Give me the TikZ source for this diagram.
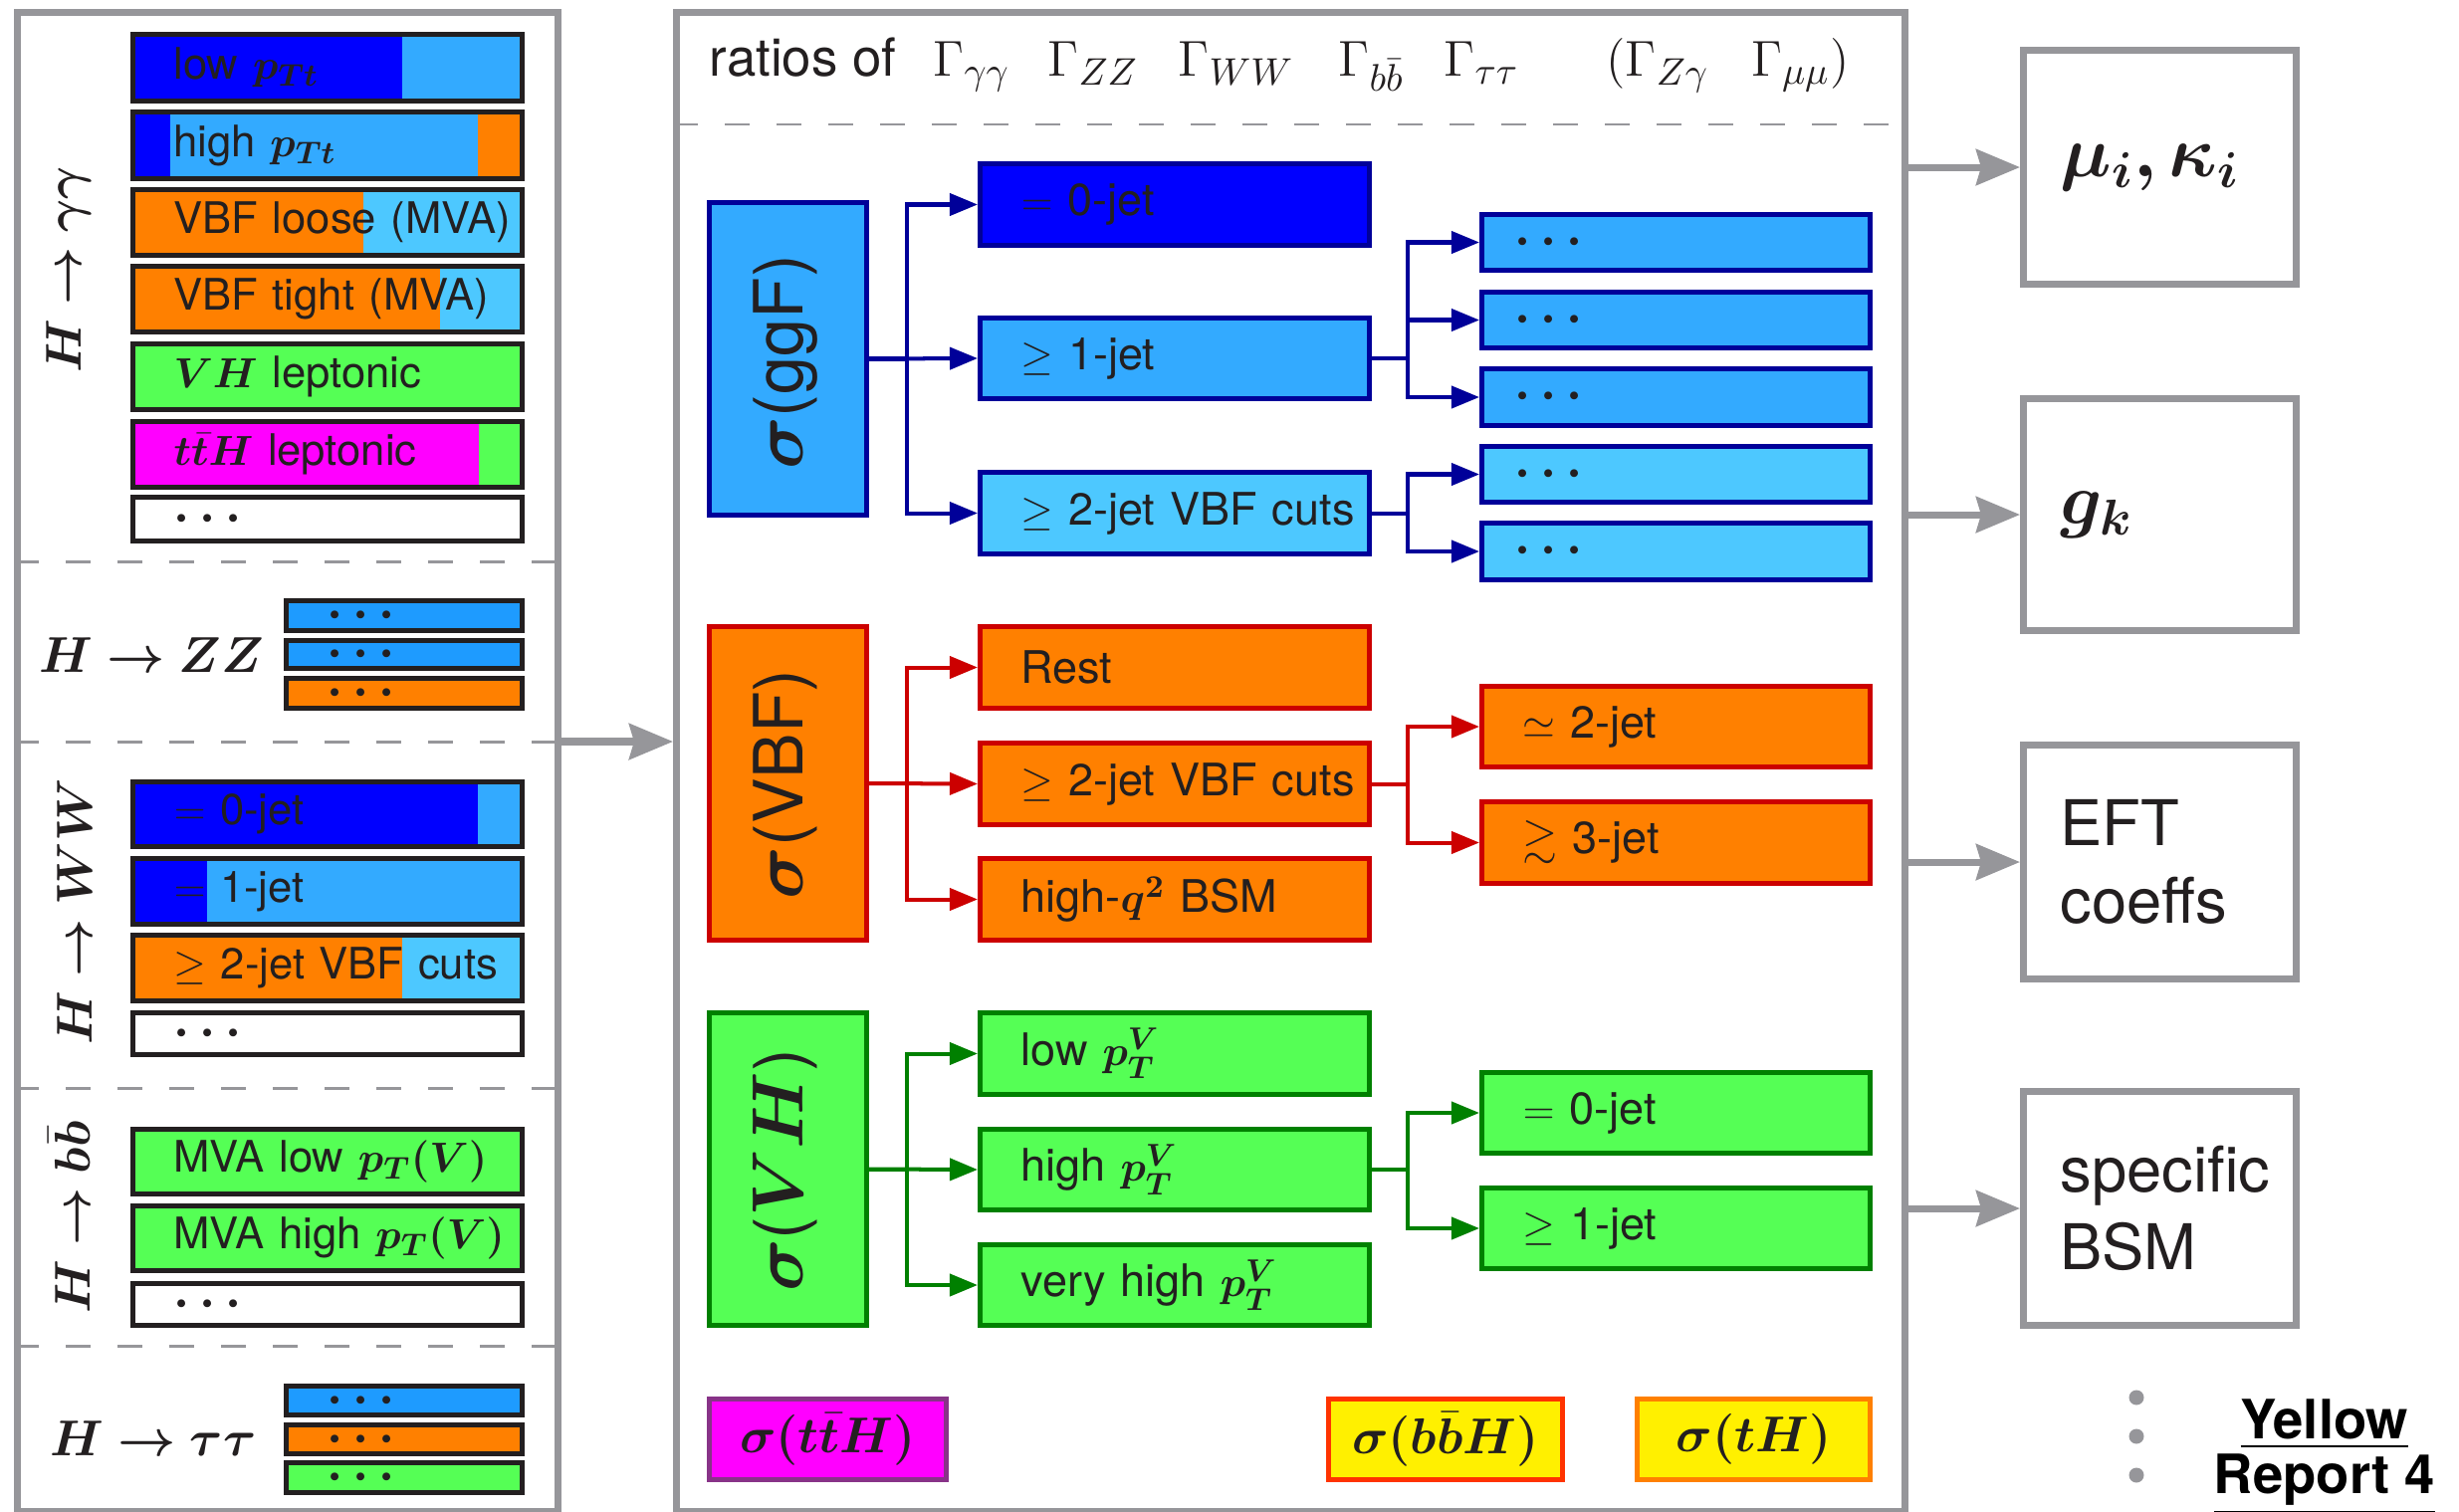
\documentclass[tikz,border=0pt]{standalone}
\usepackage{amsmath,amssymb,bm}
\usepackage{fontspec}
\setmainfont{TeX Gyre Heros}
\usetikzlibrary{arrows.meta}
\newdimen\pxu \pxu=0.01cm
\definecolor{cBlue}{RGB}{0,0,255}
\definecolor{cSky}{RGB}{51,170,255}
\definecolor{cCyan}{RGB}{77,200,255}
\definecolor{cZZ}{RGB}{30,155,255}
\definecolor{cOrange}{RGB}{255,128,0}
\definecolor{cGreen}{RGB}{85,255,85}
\definecolor{cMag}{RGB}{255,0,255}
\definecolor{cYel}{RGB}{255,240,0}
\definecolor{cNavy}{RGB}{0,0,153}
\definecolor{cRed}{RGB}{204,0,0}
\definecolor{cDGreen}{RGB}{0,128,0}
\definecolor{cPurple}{RGB}{136,51,136}
\definecolor{cOrRed}{RGB}{255,51,0}
\definecolor{cGray}{RGB}{150,150,154}
\definecolor{cInk}{RGB}{35,31,32}

\newcommand\mkin{39}
\newcommand\mkbox[7][]{%
  \pgfmathsetmacro\mkw{#5-#3}%
  \pgfmathsetmacro\mkh{#6-#4}%
  \pgfmathsetmacro\mkt{#5-#3-4}%
  \node[inner xsep=2\pxu, inner ysep=0pt, minimum width=\mkw\pxu,
    minimum height=\mkh\pxu, text width=\mkt\pxu, align=left,
    anchor=north west, #1] (#2) at (#3,#4) {\hspace*{\mkin\pxu}#7};}

\tikzset{
  lbarb/.style={draw=cInk, line width=1.42pt, text=cInk, font=\fontsize{12.4}{14}\selectfont},
  dotf/.style={font=\fontsize{14.5}{16}\selectfont},
  panel/.style={draw=cGray, line width=2pt},
  sepline/.style={draw=cGray, line width=0.85pt, dash pattern=on 25\pxu off 27\pxu},
  cbox/.style={line width=1.42pt, text=cInk, font=\fontsize{12.8}{15}\selectfont},
  ggbox/.style={cbox, draw=cNavy},
  vbbox/.style={cbox, draw=cRed, fill=cOrange},
  vhbox/.style={cbox, draw=cDGreen, fill=cGreen},
  conn/.style={line width=1.14pt, -{Triangle[length=7.97pt, width=6.26pt]}},
  gconn/.style={conn, draw=cNavy},
  rconn/.style={conn, draw=cRed},
  hconn/.style={conn, draw=cDGreen},
  bigarrow/.style={draw=cGray, line width=2pt, -{Stealth[length=12.5pt, width=10.2pt, inset=1.4pt]}},
  rbox/.style={draw=cGray, line width=2pt, text=cInk, font=\fontsize{18}{22}\selectfont},
  hlab/.style={font=\fontsize{15}{18}\selectfont, text=cInk, inner sep=0pt},
  siglab/.style={rotate=90, font=\fontsize{19.4}{23}\selectfont, text=cInk, inner sep=0pt},
  hdr/.style={font=\fontsize{15}{18}\selectfont, text=cInk, inner sep=0pt, anchor=base west},
  yrep/.style={font=\fontsize{15.5}{18}\selectfont\bfseries, text=black, inner sep=0pt, anchor=base},
}

\begin{document}
\begin{tikzpicture}[x=0.01cm, y=-0.01cm]
\fill[white] (0,0) rectangle (2470,1518);
\useasboundingbox (0,0) rectangle (2470,1518);

% ---------------- left panel ----------------
\mkbox[panel]{lpanel}{14}{9}{557}{1515}{}
\draw[sepline] (lpanel.west |- 0,564) -- (lpanel.east |- 0,564);
\draw[sepline] (lpanel.west |- 0,745) -- (lpanel.east |- 0,745);
\draw[sepline] (lpanel.west |- 0,1093) -- (lpanel.east |- 0,1093);
\draw[sepline] (lpanel.west |- 0,1352) -- (lpanel.east |- 0,1352);

% H -> gamma gamma bars (fills)
\fill[cBlue] (131,32) rectangle (404,99);  \fill[cSky] (404,32) rectangle (522,99);
\fill[cBlue] (131,110) rectangle (171,177); \fill[cSky] (171,110) rectangle (480,177); \fill[cOrange] (480,110) rectangle (522,177);
\fill[cOrange] (131,188) rectangle (365,254); \fill[cCyan] (365,188) rectangle (522,254);
\fill[cOrange] (131,265) rectangle (442,331); \fill[cCyan] (442,265) rectangle (522,331);
\fill[cGreen] (131,343) rectangle (522,409);
\fill[cMag] (131,421) rectangle (481,487); \fill[cGreen] (481,421) rectangle (522,487);
\fill[white] (131,497) rectangle (522,541);
\mkbox[lbarb]{ga1}{131}{32}{522}{99}{low $\bm{p_{Tt}}$}
\mkbox[lbarb]{ga2}{131}{110}{522}{177}{high $\bm{p_{Tt}}$}
\mkbox[lbarb]{ga3}{131}{188}{522}{254}{VBF loose (MVA)}
\mkbox[lbarb]{ga4}{131}{265}{522}{331}{VBF tight (MVA)}
\mkbox[lbarb]{ga5}{131}{343}{522}{409}{$\bm{VH}$ leptonic}
\mkbox[lbarb]{ga6}{131}{421}{522}{487}{$\bm{t\bar tH}$ leptonic}
\mkbox[lbarb,dotf]{ga7}{131}{497}{522}{541}{$\bm\cdots$}
\node[hlab, rotate=90] (lgg) at (69,271) {$\bm{H\rightarrow\gamma\gamma}$};

% H -> ZZ
\node[hlab] (lzz) at (152,658) {$\bm{H\rightarrow ZZ}$};
\mkbox[lbarb,dotf,fill=cZZ]{zz1}{285}{601}{522}{631}{$\bm\cdots$}
\mkbox[lbarb,dotf,fill=cZZ]{zz2}{285}{641}{522}{669}{$\bm\cdots$}
\mkbox[lbarb,dotf,fill=cOrange]{zz3}{285}{679}{522}{709}{$\bm\cdots$}

% H -> WW
\fill[cBlue] (131,783) rectangle (480,848); \fill[cSky] (480,783) rectangle (522,848);
\fill[cBlue] (131,860) rectangle (208,926); \fill[cSky] (208,860) rectangle (522,926);
\fill[cOrange] (131,937) rectangle (404,1003); \fill[cCyan] (404,937) rectangle (522,1003);
\fill[white] (131,1015) rectangle (522,1057);
\mkbox[lbarb]{ww1}{131}{783}{522}{848}{$=$ 0-jet}
\mkbox[lbarb]{ww2}{131}{860}{522}{926}{$=$ 1-jet}
\mkbox[lbarb]{ww3}{131}{937}{522}{1003}{$\geq$ 2-jet VBF cuts}
\mkbox[lbarb,dotf]{ww4}{131}{1015}{522}{1057}{$\bm\cdots$}
\node[hlab, rotate=90] (lww) at (75,916) {$\bm{H\rightarrow WW}$};

% H -> bb
\mkbox[lbarb,fill=cGreen]{bb1}{131}{1132}{522}{1197}{MVA low $\bm{p_T(V)}$}
\mkbox[lbarb,fill=cGreen]{bb2}{131}{1209}{522}{1274}{MVA high $\bm{p_T(V)}$}
\mkbox[lbarb,dotf,fill=white]{bb3}{131}{1287}{522}{1329}{$\bm\cdots$}
\node[hlab, rotate=90] (lbb) at (70,1223) {$\bm{H\rightarrow b\bar b}$};

% H -> tautau
\node[hlab] (ltt) at (154,1445) {$\bm{H\rightarrow\tau\tau}$};
\mkbox[lbarb,dotf,fill=cZZ]{tt1}{285}{1390}{522}{1419}{$\bm\cdots$}
\mkbox[lbarb,dotf,fill=cOrange]{tt2}{285}{1429}{522}{1458}{$\bm\cdots$}
\mkbox[lbarb,dotf,fill=cGreen]{tt3}{285}{1467}{522}{1497}{$\bm\cdots$}

% ---------------- centre panel ----------------
\mkbox[panel]{cpanel}{676}{9}{1910}{1515}{}
\draw[sepline] (cpanel.west |- 0,125) -- (cpanel.east |- 0,125);
\node[hdr] (hd0) at (712,77) {ratios of};
\node[hdr] (hd1) at (937,77) {$\Gamma_{\gamma\gamma}$};
\node[hdr] (hd2) at (1052,77) {$\Gamma_{ZZ}$};
\node[hdr] (hd3) at (1183,77) {$\Gamma_{WW}$};
\node[hdr] (hd4) at (1344,77) {$\Gamma_{b\bar b}$};
\node[hdr] (hd5) at (1450,77) {$\Gamma_{\tau\tau}$};
\node[hdr] (hd6) at (1613,77) {$(\Gamma_{Z\gamma}\hspace{0.8em}\Gamma_{\mu\mu})$};

% ggF
\mkbox[ggbox, fill=cSky]{ggF}{710}{201}{868}{515}{}
\node[siglab] (tggF) at (789,364) {$\bm\sigma$(ggF)};
\mkbox[ggbox, fill=cBlue]{j0}{982}{162}{1373}{244}{$=$ 0-jet}
\mkbox[ggbox, fill=cSky]{j1}{982}{317}{1373}{398}{$\geq$ 1-jet}
\mkbox[ggbox, fill=cCyan]{j2}{982}{472}{1373}{554}{$\geq$ 2-jet VBF cuts}
\renewcommand\mkin{31}
\mkbox[ggbox, dotf, fill=cSky]{r1}{1486}{213}{1876}{269}{$\bm\cdots$}
\mkbox[ggbox, dotf, fill=cSky]{r2}{1486}{291}{1876}{347}{$\bm\cdots$}
\mkbox[ggbox, dotf, fill=cSky]{r3}{1486}{368}{1876}{425}{$\bm\cdots$}
\mkbox[ggbox, dotf, fill=cCyan]{r4}{1486}{446}{1876}{502}{$\bm\cdots$}
\mkbox[ggbox, dotf, fill=cCyan]{r5}{1486}{523}{1876}{580}{$\bm\cdots$}
\renewcommand\mkin{39}
\draw[gconn] (ggF.east) -- ++(38,0) |- (j0.west);
\draw[gconn] (ggF.east) -- (j1.west);
\draw[gconn] (ggF.east) -- ++(38,0) |- (j2.west);
\draw[gconn] (j1.east) -- ++(36,0) |- (r1.west);
\draw[gconn] (j1.east) -- ++(36,0) |- (r2.west);
\draw[gconn] (j1.east) -- ++(36,0) |- (r3.west);
\draw[gconn] (j2.east) -- ++(36,0) |- (r4.west);
\draw[gconn] (j2.east) -- ++(36,0) |- (r5.west);

% VBF
\mkbox[vbbox]{VBF}{710}{627}{868}{942}{}
\node[siglab] (tVBF) at (789,788) {$\bm\sigma$(VBF)};
\mkbox[vbbox]{rest}{982}{627}{1373}{709}{Rest}
\mkbox[vbbox]{v2}{982}{744}{1373}{826}{$\geq$ 2-jet VBF cuts}
\mkbox[vbbox]{hq}{982}{860}{1373}{942}{high-$\bm{q^2}$ BSM}
\mkbox[vbbox]{s2}{1486}{687}{1876}{768}{$\simeq$ 2-jet}
\mkbox[vbbox]{s3}{1486}{803}{1876}{885}{$\gtrsim$ 3-jet}
\draw[rconn] (VBF.east) -- ++(38,0) |- (rest.west);
\draw[rconn] (VBF.east) -- (v2.west);
\draw[rconn] (VBF.east) -- ++(38,0) |- (hq.west);
\draw[rconn] (v2.east) -- ++(36,0) |- (s2.west);
\draw[rconn] (v2.east) -- ++(36,0) |- (s3.west);

% VH
\mkbox[vhbox]{VH}{710}{1015}{868}{1329}{}
\node[siglab] (tVH) at (789,1176) {$\bm\sigma$($\bm{VH}$)};
\mkbox[vhbox]{lo}{982}{1015}{1373}{1097}{low $\bm{p_T^V}$}
\mkbox[vhbox]{hi}{982}{1132}{1373}{1213}{high $\bm{p_T^V}$}
\mkbox[vhbox]{vhi}{982}{1248}{1373}{1329}{very high $\bm{p_T^V}$}
\mkbox[vhbox]{z0}{1486}{1075}{1876}{1156}{$=$ 0-jet}
\mkbox[vhbox]{z1}{1486}{1191}{1876}{1272}{$\geq$ 1-jet}
\draw[hconn] (VH.east) -- ++(38,0) |- (lo.west);
\draw[hconn] (VH.east) -- (hi.west);
\draw[hconn] (VH.east) -- ++(38,0) |- (vhi.west);
\draw[hconn] (hi.east) -- ++(36,0) |- (z0.west);
\draw[hconn] (hi.east) -- ++(36,0) |- (z1.west);

% bottom boxes
\renewcommand\mkin{0}
\mkbox[cbox, draw=cPurple, fill=cMag, align=center, font=\fontsize{15.5}{18}\selectfont]{ttH}{710}{1403}{948}{1484}{$\bm{\sigma(t\bar tH)}$}
\mkbox[cbox, draw=cOrRed, fill=cYel, align=center, font=\fontsize{15.5}{18}\selectfont]{bbH}{1332}{1403}{1567}{1484}{$\bm{\sigma(b\bar bH)}$}
\mkbox[cbox, draw=cOrange, fill=cYel, align=center, font=\fontsize{15.5}{18}\selectfont]{tH}{1642}{1403}{1876}{1484}{$\bm{\sigma(tH)}$}

% ---------------- right boxes ----------------
\renewcommand\mkin{35}
\mkbox[rbox]{mk}{2029}{47}{2303}{282}{\fontsize{20}{24}\selectfont$\bm{\mu_i,\kappa_i}$}
\mkbox[rbox]{gk}{2029}{397}{2303}{630}{\fontsize{20}{24}\selectfont$\bm{g_k}$}
\mkbox[rbox]{eft}{2029}{745}{2303}{980}{EFT\\\hspace*{35\pxu}coeffs}
\mkbox[rbox]{bsm}{2029}{1093}{2303}{1328}{specific\\\hspace*{35\pxu}BSM}

\coordinate (lp) at (557,745);
\draw[bigarrow] (lpanel.east |- lp) -- (cpanel.west |- lp);
\draw[bigarrow] (cpanel.east |- mk.west) -- (mk.west);
\draw[bigarrow] (cpanel.east |- gk.west) -- (gk.west);
\draw[bigarrow] (cpanel.east |- eft.west) -- (eft.west);
\draw[bigarrow] (cpanel.east |- bsm.west) -- (bsm.west);

% dots and Yellow Report
\fill[cGray] (2146,1404) circle (7.5);
\fill[cGray] (2146,1443) circle (7.5);
\fill[cGray] (2146,1482) circle (7.5);
\node[yrep] (yr1) at (2335,1445) {\underline{Yellow}};
\node[yrep] (yr2) at (2335,1500) {\underline{Report 4}};
\end{tikzpicture}
\end{document}
